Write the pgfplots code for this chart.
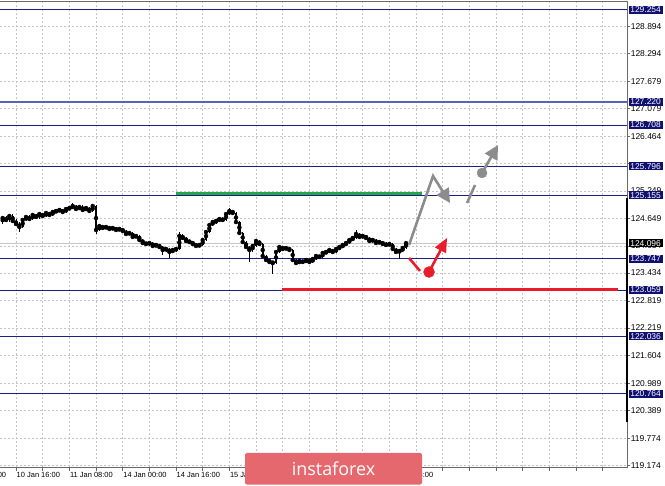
\documentclass[border=0pt]{standalone}
\usepackage{fontspec}
\setmainfont{Liberation Sans}
\newfontfamily\logofont{Open Sans}
\usepackage{pgfplots}
\pgfplotsset{compat=1.18}
\usepackage{pgfplotstable}
\usetikzlibrary{arrows.meta}

\definecolor{level}{RGB}{30,30,135}
\definecolor{levelbox}{RGB}{16,16,112}
\definecolor{levellight}{RGB}{95,95,185}
\definecolor{gridgray}{RGB}{196,196,196}
\definecolor{framegray}{RGB}{105,105,105}
\definecolor{pricegray}{RGB}{200,200,200}
\definecolor{fcgray}{RGB}{140,140,140}
\definecolor{fcred}{RGB}{232,28,42}
\definecolor{fcgreen}{RGB}{38,166,74}
\definecolor{logored}{RGB}{228,104,110}

% hourly candles: t = trading hour counted from 10 Jan 00:00
\pgfplotstableread{
t o h l c
12 124.563 124.69 124.53 124.652
13 124.652 124.69 124.57 124.608
14 124.608 124.74 124.57 124.696
15 124.696 124.73 124.55 124.586
16 124.586 124.62 124.48 124.519
17 124.519 124.56 124.34 124.453
18 124.453 124.65 124.42 124.608
19 124.608 124.72 124.58 124.674
20 124.674 124.71 124.59 124.630
21 124.630 124.76 124.60 124.718
22 124.718 124.75 124.64 124.674
23 124.674 124.78 124.64 124.740
24 124.740 124.77 124.66 124.696
25 124.696 124.80 124.67 124.763
26 124.763 124.79 124.69 124.718
27 124.718 124.82 124.69 124.785
28 124.785 124.84 124.76 124.807
29 124.807 124.87 124.78 124.829
30 124.829 124.86 124.75 124.785
31 124.785 124.89 124.76 124.851
32 124.851 124.91 124.82 124.873
33 124.873 124.98 124.85 124.917
34 124.917 124.95 124.82 124.851
35 124.851 124.93 124.82 124.895
36 124.895 124.93 124.80 124.829
37 124.829 124.91 124.80 124.873
38 124.873 124.90 124.77 124.807
39 124.807 124.96 124.79 124.917
40 124.917 124.94 124.30 124.387
41 124.387 124.51 124.36 124.475
42 124.475 124.50 124.40 124.431
43 124.431 124.49 124.40 124.453
44 124.453 124.48 124.38 124.409
45 124.409 124.47 124.38 124.431
46 124.431 124.46 124.35 124.387
47 124.387 124.44 124.36 124.409
48 124.409 124.44 124.33 124.364
49 124.364 124.39 124.26 124.298
50 124.298 124.36 124.27 124.320
51 124.320 124.35 124.20 124.232
52 124.232 124.29 124.20 124.254
53 124.254 124.28 124.13 124.165
54 124.165 124.19 124.06 124.099
55 124.099 124.13 124.04 124.077
56 124.077 124.13 124.04 124.099
57 124.099 124.12 123.99 124.033
58 124.033 124.09 124.00 124.055
59 124.055 124.08 123.97 124.010
60 124.010 124.04 123.83 123.944
61 123.944 124.00 123.91 123.966
62 123.966 123.99 123.77 123.900
63 123.900 123.98 123.87 123.944
64 123.944 124.00 123.91 123.966
65 123.966 124.34 123.94 124.254
66 124.254 124.30 124.18 124.210
67 124.210 124.24 124.11 124.143
68 124.143 124.17 124.09 124.121
69 124.121 124.15 124.04 124.077
70 124.077 124.10 124.00 124.033
71 124.033 124.09 124.00 124.055
72 124.055 124.20 124.03 124.165
73 124.165 124.38 124.14 124.342
74 124.342 124.54 124.31 124.497
75 124.497 124.60 124.47 124.563
76 124.563 124.63 124.53 124.586
77 124.586 124.67 124.56 124.630
78 124.630 124.66 124.58 124.608
79 124.608 124.78 124.59 124.740
80 124.740 124.87 124.71 124.807
81 124.807 124.84 124.73 124.763
82 124.763 124.79 124.53 124.563
83 124.563 124.59 124.29 124.320
84 124.320 124.35 124.09 124.121
85 124.121 124.15 123.98 124.010
86 124.010 124.04 123.68 123.944
87 123.944 124.07 123.91 124.033
88 124.033 124.18 124.00 124.143
89 124.143 124.17 124.05 124.077
90 124.077 124.10 123.78 123.811
91 123.811 123.84 123.69 123.723
92 123.723 123.75 123.64 123.679
93 123.679 123.71 123.41 123.656
94 123.656 123.94 123.63 123.900
95 123.900 124.05 123.87 124.010
96 124.010 124.04 123.94 123.966
97 123.966 124.02 123.94 123.988
98 123.988 124.02 123.91 123.944
99 123.944 123.97 123.69 123.723
100 123.723 123.75 123.61 123.656
101 123.656 123.74 123.63 123.701
102 123.701 123.73 123.65 123.679
103 123.679 123.76 123.65 123.723
104 123.723 123.75 123.65 123.679
105 123.679 123.78 123.65 123.745
106 123.745 123.85 123.72 123.811
107 123.811 123.84 123.76 123.789
108 123.789 123.91 123.76 123.878
109 123.878 123.94 123.85 123.900
110 123.900 123.98 123.87 123.944
111 123.944 123.97 123.87 123.900
112 123.900 124.00 123.87 123.966
113 123.966 124.05 123.94 124.010
114 124.010 124.09 123.98 124.055
115 124.055 124.14 124.03 124.099
116 124.099 124.20 124.07 124.165
117 124.165 124.25 124.14 124.210
118 124.210 124.39 124.18 124.298
119 124.298 124.33 124.20 124.232
120 124.232 124.29 124.20 124.254
121 124.254 124.28 124.18 124.210
122 124.210 124.24 124.11 124.143
123 124.143 124.20 124.11 124.165
124 124.165 124.19 124.07 124.099
125 124.099 124.16 124.07 124.121
126 124.121 124.15 124.05 124.077
127 124.077 124.11 124.02 124.055
128 124.055 124.11 124.03 124.077
129 124.077 124.10 123.93 123.966
130 123.966 123.99 123.87 123.900
131 123.900 123.96 123.75 123.922
132 123.922 124.02 123.89 123.988
133 123.988 124.13 123.96 124.096
}\candles

\tikzset{pricetag/.style={anchor=west, inner xsep=1.6bp, inner ysep=0.9bp,
  font=\fontsize{8.5}{9}\selectfont, text=white}}

\begin{document}
\begin{tikzpicture}
\begin{axis}[
  at={(0,0)}, anchor=south west,
  scale only axis, width=627bp, height=466.5bp,
  xmin=11.19, xmax=199.29, ymin=119.132, ymax=129.453,
  axis x line*=box, axis y line*=right,
  axis line style={framegray, line width=0.8bp},
  clip mode=individual,
  ytick={119.174,119.774,120.389,120.989,121.604,122.219,122.819,123.434,124.034,124.649,125.249,125.864,126.464,127.079,127.679,128.294,128.894},
  yticklabels={119.174,119.774,120.389,120.989,121.604,122.219,122.819,123.434,124.034,124.649,125.249,,126.464,127.079,127.679,128.294,128.894},
  xtick={16,24,...,192},
  xticklabels={10 Jan 16:00,,11 Jan 08:00,,14 Jan 00:00,,14 Jan 16:00,,15 Jan 08:00,,16 Jan 00:00,,16 Jan 16:00,,17 Jan 08:00},
  xtick pos=left, ytick pos=right, yticklabel pos=right,
  tick align=outside, major tick length=3bp,
  tick style={framegray, line width=0.6bp},
  grid=major,
  major grid style={gridgray, line width=0.7bp, dash pattern=on 2bp off 2bp},
  yticklabel style={font=\fontsize{8.5}{9}\selectfont, anchor=west, inner xsep=1.6bp, inner ysep=0.9bp, xshift=-1bp},
  xticklabel style={font=\fontsize{7.5}{9}\selectfont, anchor=north west, inner sep=0pt, xshift=0.5bp, yshift=-2bp},
]

% current bid
\addplot[pricegray, line width=0.8bp] coordinates {(11.19,124.096) (199.29,124.096)};

% support and resistance levels
\pgfplotsinvokeforeach{129.254,126.708,125.796,125.155,123.747,123.059,122.036,120.764}{
  \addplot[level, line width=1bp] coordinates {(11.19,#1) (199.29,#1)};
}
\addplot[levellight, line width=1.6bp] coordinates {(11.19,127.220) (199.29,127.220)};

% key zones
\addplot[fcgreen, line width=3bp] coordinates {(64,125.19) (137.8,125.19)};
\addplot[fcred, line width=3bp] coordinates {(95.8,123.08) (196.6,123.08)};

% candle wicks
\addplot[only marks, mark=none,
  error bars/.cd, y dir=both, y explicit, error mark=none,
  error bar style={black, line width=0.8bp}]
  table[x=t, y=c, y error plus expr=\thisrow{h}-\thisrow{c}, y error minus expr=\thisrow{c}-\thisrow{l}] {\candles};
% candle bodies
\addplot[only marks, mark=none,
  error bars/.cd, y dir=both, y explicit, error mark=none,
  error bar style={black, line width=2.4bp}]
  table[x=t, y expr=(\thisrow{o}+\thisrow{c})/2, y error expr=abs(\thisrow{c}-\thisrow{o})/2+0.006] {\candles};

% scenario: upward push then pullback
\addplot[fcgray, line width=2.6bp, line join=miter, -{Triangle[length=14bp, width=14bp]}]
  coordinates {(133.9,124.055) (141.1,125.581) (146.2,124.984)};
\addplot[fcgray, line width=2.6bp] coordinates {(151.3,124.984) (153.7,125.382)};
\addplot[fcgray, only marks, mark=*, mark size=5bp] coordinates {(155.8,125.648)};
\addplot[fcgray, line width=2.6bp, -{Triangle[length=14bp, width=14bp]}]
  coordinates {(155.8,125.648) (160.6,126.267)};

% scenario: dip then rebound
\addplot[fcred, line width=2.6bp] coordinates {(133.9,123.767) (137.2,123.48)};
\addplot[fcred, only marks, mark=*, mark size=5.5bp] coordinates {(139.9,123.457)};
\addplot[fcred, line width=2.6bp, -{Triangle[length=14bp, width=12bp]}]
  coordinates {(139.9,123.457) (145.3,124.21)};

% scale bar on the price axis
\draw[black, line width=2.5bp] (axis cs:199.29,125.094) -- (axis cs:199.29,120.139);

% anchors for the price tags
\coordinate (pA) at (axis cs:199.29,129.254);
\coordinate (pB) at (axis cs:199.29,127.220);
\coordinate (pC) at (axis cs:199.29,126.708);
\coordinate (pD) at (axis cs:199.29,125.796);
\coordinate (pE) at (axis cs:199.29,125.155);
\coordinate (pF) at (axis cs:199.29,123.747);
\coordinate (pG) at (axis cs:199.29,123.059);
\coordinate (pH) at (axis cs:199.29,122.036);
\coordinate (pI) at (axis cs:199.29,120.764);
\coordinate (pNow) at (axis cs:199.29,124.096);
\end{axis}

% level price tags
\foreach \p/\v in {pA/129.254,pB/127.220,pC/126.708,pD/125.796,pE/125.155,pF/123.747,pG/123.059,pH/122.036,pI/120.764}{
  \node[pricetag, fill=levelbox] at ([xshift=1.5bp]\p) {\v};
}
% current price tag
\node[pricetag, fill=black] at ([xshift=1.5bp]pNow) {124.096};
% cut-off date label at the left edge
\node[anchor=north west, inner sep=0pt, font=\fontsize{7.5}{9}\selectfont] at (-37.3bp,-5bp) {10 Jan 00:00};

% logo
\fill[logored, rounded corners=2bp] (245bp,-17bp) rectangle (422bp,14.5bp);
\node[anchor=base, text=white, inner sep=0pt, font=\logofont\fontsize{18}{18}\selectfont] at (333.5bp,-7.5bp) {instaforex};

\pgfresetboundingbox
\path[use as bounding box] (0,-18.5bp) rectangle (665bp,467.5bp);
\end{tikzpicture}
\end{document}
